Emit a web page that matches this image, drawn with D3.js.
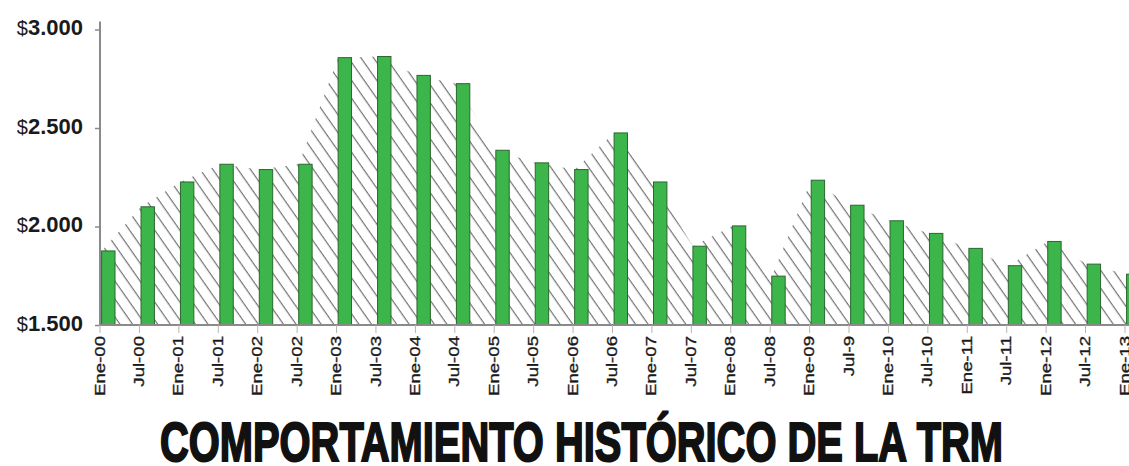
<!DOCTYPE html>
<html>
<head>
<meta charset="utf-8">
<script src="https://cdn.jsdelivr.net/npm/d3@7/dist/d3.min.js"></script>
<style>
  html, body { margin: 0; padding: 0; background: #ffffff; }
  svg { display: block; }
</style>
</head>
<body>
<svg id="chart" width="1129" height="466"></svg>
<script>
// Tasa Representativa del Mercado (COP por USD), cortes semestrales
const periods = [
  "Ene-00", "Jul-00", "Ene-01", "Jul-01", "Ene-02", "Jul-02", "Ene-03", "Jul-03",
  "Ene-04", "Jul-04", "Ene-05", "Jul-05", "Ene-06", "Jul-06", "Ene-07", "Jul-07",
  "Ene-08", "Jul-08", "Ene-09", "Jul-9", "Ene-10", "Jul-10", "Ene-11", "Jul-11",
  "Ene-12", "Jul-12", "Ene-13"
];
const trm = [
  1876, 2100, 2226, 2316, 2289, 2316, 2857, 2863,
  2767, 2725, 2387, 2323, 2289, 2475, 2226, 1900,
  2003, 1748, 2235, 2108, 2029, 1965, 1889, 1801,
  1924, 1809, 1758
];
const yTicks = [1500, 2000, 2500, 3000];
const yTickLabels = ["1.500", "2.000", "2.500", "3.000"];
const title = "COMPORTAMIENTO HISTÓRICO DE LA TRM";

const data = periods.map((p, i) => ({ period: p, value: trm[i] }));

const svg = d3.select("#chart");
const axisColor = "#8a8a8a";

// Scales: the plot runs past the right edge of the page, as in the original layout
const x = d3.scaleBand().domain(periods).range([100, 1164.4]).padding(0);
const y = d3.scaleLinear().domain([1500, 3000]).range([325, 29.5]);

const barOffset = 1.6;
const barWidth = x.bandwidth() * 0.34;

// Diagonal hatch used for the background area
const defs = svg.append("defs");
const hatch = defs.append("pattern")
  .attr("id", "hatch")
  .attr("patternUnits", "userSpaceOnUse")
  .attr("width", 10.3)
  .attr("height", 10.3)
  .attr("patternTransform", "rotate(-35)");
hatch.append("line")
  .attr("x1", 5).attr("y1", -1)
  .attr("x2", 5).attr("y2", 11.3)
  .attr("stroke", "#666666")
  .attr("stroke-width", 1.1);

// Hatched area traced through the same values, anchored at each bar's left edge
const area = d3.area()
  .x(d => x(d.period) + barOffset)
  .y0(y(1500))
  .y1(d => y(d.value));

svg.append("path")
  .datum(data)
  .attr("d", area)
  .attr("fill", "url(#hatch)");

// Columns
svg.append("g")
  .selectAll("rect")
  .data(data)
  .join("rect")
  .attr("x", d => x(d.period) + barOffset)
  .attr("y", d => y(d.value))
  .attr("width", barWidth)
  .attr("height", d => y(1500) - y(d.value))
  .attr("fill", "#3cb54a")
  .attr("stroke", "#2c6630")
  .attr("stroke-width", 1);

// Y axis
const yAxis = d3.axisLeft(y)
  .tickValues(yTicks)
  .tickSize(5)
  .tickFormat("");
const gy = svg.append("g")
  .attr("transform", "translate(100,0)")
  .call(yAxis);
gy.select(".domain")
  .attr("d", `M0,21.5V${y(1500)}`)
  .attr("stroke", axisColor)
  .attr("stroke-width", 2);
gy.selectAll(".tick line").attr("stroke", axisColor).attr("stroke-width", 1.5);

// Y tick labels: light "$" followed by bold figures
const yLab = svg.append("g")
  .selectAll("text")
  .data(yTicks)
  .join("text")
  .attr("x", 83)
  .attr("y", d => y(d))
  .attr("dy", "0.36em")
  .attr("text-anchor", "end")
  .attr("fill", "#1a1a1a")
  .style("font-family", "'Liberation Sans', Arial, sans-serif");
yLab.append("tspan")
  .style("font-size", "20px")
  .style("font-weight", "normal")
  .text("$");
yLab.append("tspan")
  .style("font-size", "22px")
  .style("font-weight", "bold")
  .text((d, i) => yTickLabels[i]);

// X axis: ticks on category boundaries, labels rotated
const xAxis = d3.axisBottom(x)
  .tickSize(8)
  .tickFormat("");
const gx = svg.append("g")
  .attr("transform", `translate(0,${y(1500)})`)
  .call(xAxis);
gx.select(".domain")
  .attr("d", `M100,0H1129`)
  .attr("stroke", axisColor)
  .attr("stroke-width", 2);
gx.selectAll(".tick")
  .attr("transform", d => `translate(${x(d)},0)`);
gx.selectAll(".tick line").attr("stroke", "#b5b5b5").attr("stroke-width", 1);

svg.append("g")
  .selectAll("text")
  .data(periods)
  .join("text")
  .attr("transform", d => `translate(${x(d) - 1},336) rotate(-90) scale(1.2,1)`)
  .attr("text-anchor", "end")
  .attr("dy", "0.36em")
  .attr("fill", "#1a1a1a")
  .attr("stroke", "#1a1a1a")
  .attr("stroke-width", 0.35)
  .style("font-family", "'Liberation Sans', Arial, sans-serif")
  .style("font-size", "15.5px")
  .text(d => d);

// Title
svg.append("text")
  .attr("x", 160)
  .attr("y", 461)
  .attr("textLength", 843)
  .attr("lengthAdjust", "spacingAndGlyphs")
  .attr("fill", "#111")
  .attr("stroke", "#111")
  .attr("stroke-width", 2)
  .style("font-family", "'Liberation Sans', Arial, sans-serif")
  .style("font-weight", "bold")
  .style("font-size", "56px")
  .text(title);
</script>
</body>
</html>
